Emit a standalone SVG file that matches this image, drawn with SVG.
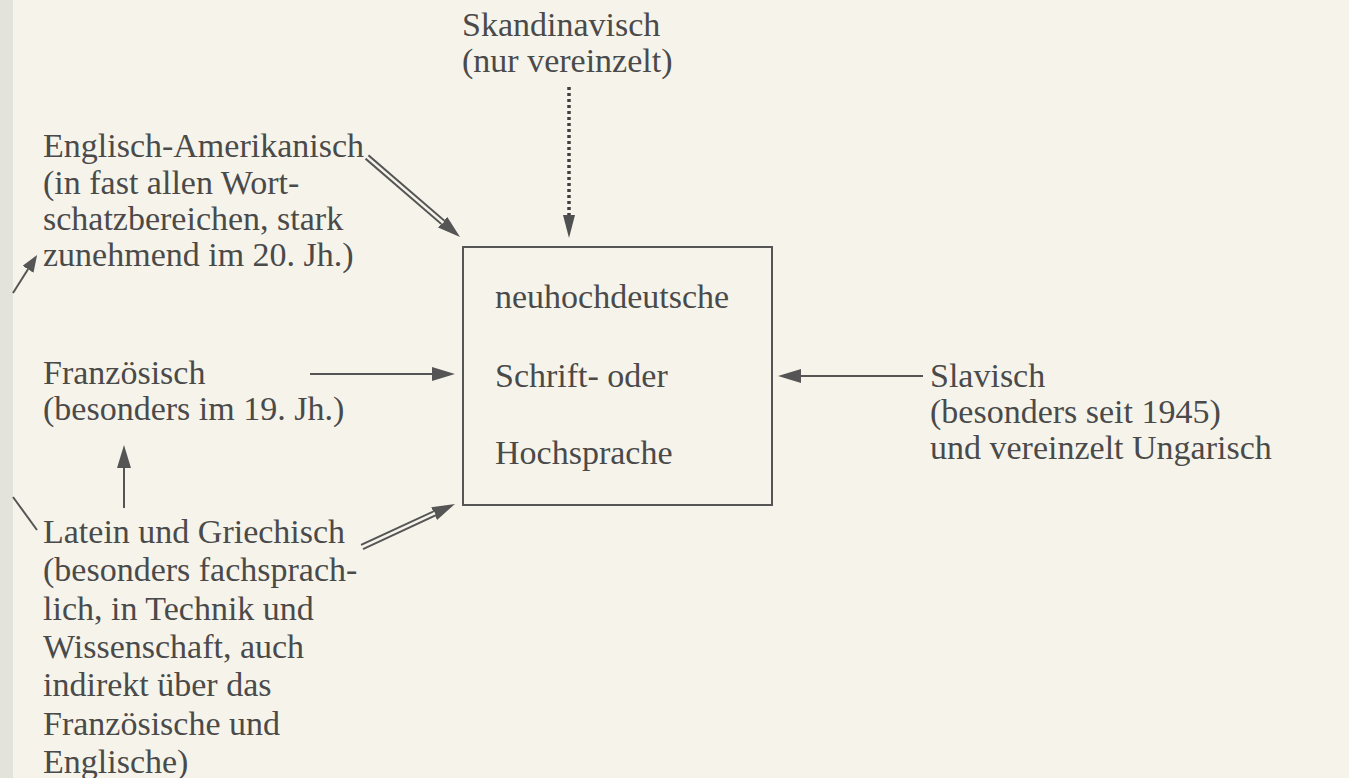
<svg xmlns="http://www.w3.org/2000/svg" width="1349" height="778" viewBox="0 0 1349 778">
<style>
text{font-family:"Liberation Serif","Times New Roman",serif;font-size:34px;fill:#4a4a4a}
.ln{stroke:#555;stroke-width:2;fill:none}
.dbl{stroke:#555;stroke-width:6.5;fill:none}
.dbli{stroke:#f6f4ea;stroke-width:2.5;fill:none}
.dot{stroke:#3f3f3f;stroke-width:3.5;fill:none;stroke-dasharray:3 3}
</style>
<defs>
<marker id="ah" markerUnits="userSpaceOnUse" markerWidth="23" markerHeight="14" viewBox="0 0 23 14" refX="0" refY="7" orient="auto">
<path d="M0,0 L23,7 L0,14 z" fill="#555"/>
</marker>
<marker id="ahn" markerUnits="userSpaceOnUse" markerWidth="23" markerHeight="12" viewBox="0 0 23 12" refX="0" refY="6" orient="auto">
<path d="M0,0 L23,6 L0,12 z" fill="#505050"/>
</marker>
<marker id="ahs" markerUnits="userSpaceOnUse" markerWidth="17" markerHeight="13" viewBox="0 0 17 13" refX="0" refY="6.5" orient="auto">
<path d="M0,0 L17,6.5 L0,13 z" fill="#555"/>
</marker>
</defs>
<rect x="0" y="0" width="1349" height="778" fill="#f6f4ea"/>
<rect x="0" y="0" width="13" height="778" fill="#e3e3dc"/>

<g id="center">
<rect x="463" y="247" width="309" height="258" fill="none" stroke="#555" stroke-width="2"/>
<text x="495" y="308">neuhochdeutsche</text>
<text x="495" y="387">Schrift- oder</text>
<text x="495" y="464">Hochsprache</text>
</g>

<g id="skandinavisch">
<text x="462" y="36">Skandinavisch</text>
<text x="462" y="72">(nur vereinzelt)</text>
</g>

<g id="englisch">
<text x="43" y="157">Englisch-Amerikanisch</text>
<text x="43" y="193.5">(in fast allen Wort-</text>
<text x="43" y="230">schatzbereichen, stark</text>
<text x="43" y="266">zunehmend im 20. Jh.)</text>
</g>

<g id="franzoesisch">
<text x="43" y="384">Französisch</text>
<text x="43" y="420">(besonders im 19. Jh.)</text>
</g>

<g id="latein">
<text x="43" y="543">Latein und Griechisch</text>
<text x="43" y="581.3">(besonders fachsprach-</text>
<text x="43" y="619.6">lich, in Technik und</text>
<text x="43" y="658">Wissenschaft, auch</text>
<text x="43" y="696.2">indirekt über das</text>
<text x="43" y="734.5">Französische und</text>
<text x="43" y="772.5">Englische)</text>
</g>

<g id="slavisch">
<text x="930" y="387">Slavisch</text>
<text x="930" y="423">(besonders seit 1945)</text>
<text x="930" y="459">und vereinzelt Ungarisch</text>
</g>

<g id="connectors">
<line class="dbl" x1="367" y1="157" x2="442.6" y2="222.1" marker-end="url(#ah)"/>
<line class="dbli" x1="366" y1="156.1" x2="443.3" y2="222.7"/>
<line class="dot" x1="569" y1="87" x2="569" y2="215" marker-end="url(#ahn)"/>
<line class="ln" x1="310" y1="374" x2="432" y2="374" marker-end="url(#ah)"/>
<line class="ln" x1="923" y1="376" x2="801" y2="376" marker-end="url(#ah)"/>
<line class="dbl" x1="362" y1="547" x2="434.1" y2="513.6" marker-end="url(#ah)"/>
<line class="dbli" x1="361" y1="547.5" x2="435" y2="513.2"/>
<line class="ln" x1="124" y1="508" x2="124" y2="468" marker-end="url(#ah)"/>
<line class="ln" x1="13" y1="293" x2="28" y2="269.3" marker-end="url(#ahs)"/>
<line class="ln" x1="13" y1="497" x2="37" y2="530"/>
</g>
</svg>
